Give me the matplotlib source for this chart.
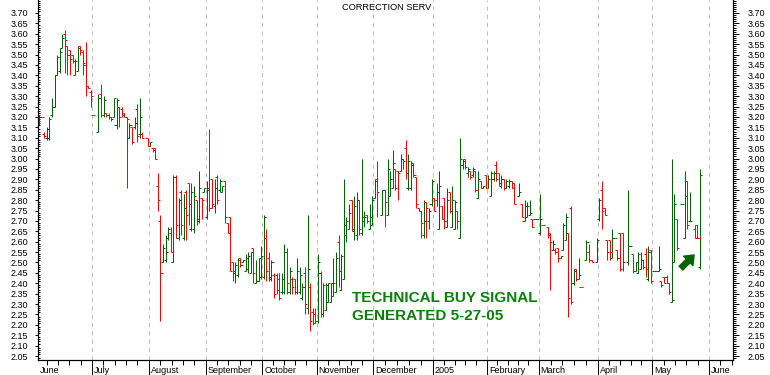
import matplotlib
matplotlib.use("Agg")
import matplotlib.pyplot as plt
import numpy as np
import pandas as pd
from matplotlib import transforms
from matplotlib.ticker import FixedLocator, FormatStrFormatter

plt.rcParams['font.family'] = ['Liberation Sans', 'DejaVu Sans']

N = None
# daily bars, one entry per weekday 2004-06-01 .. 2005-05-27 (None = no trade)
opens = [
    N, 3.20, 3.20, 3.12, 3.10, 3.10, 3.21, 3.25, 3.40, 3.42, 3.53, 3.60, 3.54, 3.52, 3.50, 3.40, 3.42, 3.54, 3.51, 3.45, 3.35, 3.32,  # jun
    3.21, N, 3.13, 3.31, 3.21, 3.22, 3.21, 3.20, 3.20, 3.16, 3.25, 3.24, 3.22, 3.20, 3.10, 3.15, 3.15, 3.24, 3.12, 3.12, N, 3.10,  # jul
    3.06, 3.05, 3.05, 2.87, 2.70, 2.50, 2.51, 2.62, 2.64, 2.50, 2.91, 2.62, 2.84, 2.62, 2.84, 2.88, 2.66, 2.66, 2.80, 2.70, 2.81, 2.84,  # aug
    2.72, 2.86, 2.90, 2.77, 2.91, 2.85, 2.84, 2.89, 2.69, 2.72, 2.50, 2.45, 2.44, 2.52, 2.50, 2.46, 2.47, 2.45, 2.57, 2.40, 2.41, 2.43,  # sep
    2.43, 2.62, 2.52, 2.43, 2.44, 2.44, 2.42, 2.36, 2.36, 2.55, 2.36, 2.42, 2.42, 2.36, 2.36, 2.33, 2.45, 2.28, 2.38, 2.26, 2.25,  # oct
    2.22, 2.45, 2.25, 2.27, 2.31, 2.31, 2.34, 2.36, 2.60, 2.37, 2.42, 2.63, 2.66, 2.80, 2.65, 2.63, 2.80, 2.64, 2.70, 2.73, 2.66, 2.68,  # nov
    2.81, 2.90, N, 2.73, 2.85, 2.73, 2.82, 2.86, 2.95, 2.94, 2.94, 3.00, 3.05, 2.86, 2.86, 2.98, 2.91, 2.76, 2.75, 2.63, 2.79, 2.70, 2.78,  # dec
    2.81, 2.80, 2.66, 2.77, 2.81, 2.67, 2.84, 2.67, 2.66, 2.75, 2.62, 2.97, 3.00, 2.93, 2.94, 2.92, 2.94, 2.81, 2.89, 2.86, 2.92,  # jan
    2.86, 2.82, 2.90, 2.97, 2.93, 2.87, 2.90, 2.86, 2.87, 2.89, 2.88, N, 2.82, 2.78, 2.70, 2.72, 2.73, 2.71, 2.71, 2.71,  # feb
    2.64, 2.68, N, 2.67, 2.63, 2.56, 2.56, 2.57, 2.52, 2.56, 2.61, 2.64, 2.76, 2.40, 2.47, 2.42, 2.38, N, 2.51, 2.55, 2.51, N, 2.50,  # mar
    2.71, 2.85, 2.76, 2.61, 2.61, 2.52, 2.62, 2.56, 2.64, 2.64, N, 2.50, 2.58, 2.54, 2.46, 2.45, 2.47, 2.51, 2.54, 2.42, 2.56,  # apr
    2.46, 2.46, 2.46, 2.41, 2.43, 2.43, 2.40, 2.31, 2.50, 2.71, N, 2.78, 2.62, 2.89, 2.70, N, 2.66, 2.68, 2.48, N,  # may
]
highs = [
    N, 3.21, 3.20, 3.13, 3.15, 3.20, 3.29, 3.40, 3.50, 3.53, 3.60, 3.62, 3.54, 3.52, 3.50, 3.48, 3.54, 3.54, 3.52, 3.56, 3.35, 3.33,
    3.21, N, 3.31, 3.36, 3.30, 3.22, 3.22, 3.20, 3.29, 3.29, 3.25, 3.25, 3.22, 3.20, 3.17, 3.15, 3.20, 3.26, 3.29, 3.13, N, 3.10,
    3.08, 3.05, 3.05, 2.93, 2.73, 2.59, 2.63, 2.67, 2.67, 2.92, 2.92, 2.81, 2.85, 2.83, 2.85, 2.88, 2.88, 2.87, 2.80, 2.94, 2.81, 2.86,
    2.89, 3.14, 2.90, 2.90, 2.92, 2.90, 2.87, 2.89, 2.69, 2.72, 2.50, 2.50, 2.52, 2.52, 2.51, 2.54, 2.55, 2.55, 2.57, 2.51, 2.52, 2.58,
    2.73, 2.66, 2.55, 2.51, 2.45, 2.45, 2.45, 2.45, 2.59, 2.57, 2.48, 2.43, 2.42, 2.52, 2.48, 2.40, 2.48, 2.73, 2.40, 2.28, 2.28,
    2.54, 2.46, 2.40, 2.40, 2.40, 2.40, 2.52, 2.55, 2.63, 2.54, 2.90, 2.72, 2.78, 2.80, 2.82, 2.84, 2.80, 3.00, 2.75, 2.73, 2.78, 2.82,
    2.90, 2.99, N, 2.85, 2.85, 3.00, 2.94, 3.04, 2.95, 2.94, 3.02, 3.00, 3.09, 3.02, 2.99, 2.98, 2.91, 2.76, 2.75, 2.80, 2.79, 2.76, 2.90,
    2.81, 2.88, 2.94, 2.77, 2.81, 2.86, 2.84, 2.87, 2.80, 2.75, 3.10, 3.00, 3.00, 2.96, 2.94, 2.96, 2.94, 2.94, 2.89, 2.87, 2.92,
    2.92, 2.94, 2.94, 2.99, 2.93, 2.92, 2.90, 2.90, 2.90, 2.89, 2.88, N, 2.88, 2.78, 2.80, 2.79, 2.80, 2.71, 2.71, 2.71,
    2.83, 2.68, N, 2.67, 2.64, 2.61, 2.57, 2.57, 2.53, 2.69, 2.74, 2.64, 2.77, 2.47, 2.47, 2.52, 2.38, N, 2.61, 2.59, 2.51, N, 2.62,
    2.81, 2.89, 2.76, 2.61, 2.61, 2.66, 2.62, 2.56, 2.64, 2.64, N, 2.85, 2.58, 2.54, 2.50, 2.55, 2.55, 2.51, 2.57, 2.58, 2.56,
    2.46, 2.46, 2.58, 2.41, 2.43, 2.44, 2.40, 3.00, 2.83, 2.71, N, 2.78, 2.94, 2.89, 2.84, N, 2.68, 2.68, 2.95, N,
]
lows = [
    N, 3.16, 3.20, 3.10, 3.09, 3.09, 3.20, 3.25, 3.40, 3.41, 3.53, 3.41, 3.40, 3.40, 3.46, 3.40, 3.42, 3.50, 3.40, 3.30, 3.34, 3.25,
    3.21, N, 3.13, 3.20, 3.20, 3.20, 3.19, 3.18, 3.20, 3.14, 3.15, 3.20, 3.20, 2.86, 3.10, 3.07, 3.14, 3.08, 3.10, 3.10, N, 3.06,
    3.06, 3.03, 3.00, 2.75, 2.22, 2.50, 2.50, 2.61, 2.55, 2.50, 2.62, 2.61, 2.63, 2.61, 2.61, 2.68, 2.65, 2.64, 2.68, 2.69, 2.71, 2.84,
    2.71, 2.75, 2.76, 2.74, 2.78, 2.84, 2.84, 2.69, 2.64, 2.46, 2.41, 2.40, 2.43, 2.48, 2.50, 2.46, 2.45, 2.45, 2.40, 2.40, 2.41, 2.42,
    2.42, 2.41, 2.41, 2.41, 2.33, 2.35, 2.32, 2.35, 2.35, 2.35, 2.35, 2.35, 2.35, 2.35, 2.35, 2.32, 2.25, 2.25, 2.17, 2.20, 2.21,
    2.21, 2.24, 2.24, 2.27, 2.31, 2.31, 2.34, 2.36, 2.38, 2.37, 2.42, 2.60, 2.66, 2.65, 2.61, 2.61, 2.63, 2.63, 2.67, 2.69, 2.66, 2.68,
    2.81, 2.72, N, 2.73, 2.67, 2.73, 2.82, 2.86, 2.85, 2.80, 2.94, 2.95, 2.90, 2.85, 2.85, 2.91, 2.76, 2.75, 2.62, 2.62, 2.62, 2.66, 2.77,
    2.75, 2.77, 2.66, 2.71, 2.66, 2.67, 2.74, 2.67, 2.66, 2.66, 2.62, 2.95, 2.95, 2.91, 2.90, 2.91, 2.84, 2.81, 2.86, 2.86, 2.86,
    2.86, 2.82, 2.89, 2.89, 2.87, 2.86, 2.85, 2.86, 2.86, 2.86, 2.78, N, 2.82, 2.72, 2.70, 2.72, 2.73, 2.67, 2.71, 2.71,
    2.63, 2.68, N, 2.62, 2.37, 2.56, 2.54, 2.50, 2.52, 2.56, 2.61, 2.24, 2.30, 2.39, 2.41, 2.42, 2.38, N, 2.51, 2.50, 2.50, N, 2.50,
    2.70, 2.66, 2.73, 2.51, 2.51, 2.52, 2.62, 2.51, 2.46, 2.46, N, 2.49, 2.58, 2.45, 2.46, 2.45, 2.47, 2.47, 2.43, 2.41, 2.40,
    2.46, 2.46, 2.46, 2.38, 2.40, 2.40, 2.35, 2.31, 2.50, 2.56, N, 2.78, 2.62, 2.66, 2.70, N, 2.62, 2.62, 2.47, N,
]
closes = [
    N, 3.20, 3.20, 3.11, 3.14, 3.19, 3.25, 3.40, 3.49, 3.51, 3.58, 3.57, 3.50, 3.48, 3.47, 3.47, 3.53, 3.52, 3.46, 3.35, 3.34, 3.30,
    3.21, N, 3.29, 3.21, 3.28, 3.21, 3.20, 3.19, 3.29, 3.28, 3.20, 3.21, 3.20, 3.19, 3.16, 3.08, 3.17, 3.11, 3.20, 3.10, N, 3.06,
    3.08, 3.04, 3.00, 2.80, 2.45, 2.57, 2.55, 2.66, 2.55, 2.91, 2.68, 2.80, 2.68, 2.76, 2.73, 2.78, 2.84, 2.82, 2.71, 2.86, 2.80, 2.86,
    2.85, 2.76, 2.78, 2.86, 2.80, 2.89, 2.87, 2.72, 2.64, 2.46, 2.46, 2.49, 2.51, 2.49, 2.51, 2.52, 2.53, 2.55, 2.45, 2.41, 2.52, 2.53,
    2.72, 2.46, 2.42, 2.50, 2.35, 2.37, 2.33, 2.42, 2.55, 2.40, 2.46, 2.38, 2.36, 2.46, 2.44, 2.38, 2.30, 2.47, 2.22, 2.21, 2.22,
    2.50, 2.25, 2.39, 2.39, 2.40, 2.40, 2.40, 2.52, 2.46, 2.53, 2.68, 2.70, 2.74, 2.66, 2.77, 2.80, 2.66, 2.72, 2.72, 2.70, 2.72, 2.80,
    2.89, 2.84, N, 2.85, 2.79, 2.95, 2.90, 2.98, 2.86, 2.93, 3.00, 2.99, 2.93, 2.99, 2.97, 2.92, 2.78, 2.75, 2.69, 2.70, 2.76, 2.75, 2.89,
    2.75, 2.84, 2.87, 2.71, 2.70, 2.80, 2.75, 2.80, 2.79, 2.70, 3.00, 2.99, 2.96, 2.95, 2.91, 2.95, 2.85, 2.90, 2.86, 2.87, 2.86,
    2.90, 2.93, 2.93, 2.90, 2.88, 2.90, 2.86, 2.89, 2.89, 2.86, 2.78, N, 2.84, 2.72, 2.77, 2.77, 2.74, 2.67, 2.71, 2.71,
    2.71, 2.68, N, 2.64, 2.60, 2.59, 2.55, 2.52, 2.53, 2.68, 2.72, 2.33, 2.31, 2.46, 2.42, 2.44, 2.38, N, 2.60, 2.51, 2.50, N, 2.61,
    2.80, 2.75, 2.73, 2.55, 2.55, 2.62, 2.62, 2.52, 2.47, 2.50, N, 2.58, 2.58, 2.46, 2.50, 2.54, 2.51, 2.48, 2.47, 2.55, 2.41,
    2.46, 2.46, 2.47, 2.39, 2.40, 2.40, 2.36, 2.32, 2.78, 2.57, N, 2.78, 2.82, 2.68, 2.70, N, 2.62, 2.62, 2.92, N,
]

month_names = ['June', 'July', 'August', 'September', 'October', 'November', 'December',
               '2005', 'February', 'March', 'April', 'May', 'June']
title = 'CORRECTION SERV'
signal_text = ['TECHNICAL BUY SIGNAL', 'GENERATED 5-27-05']

GREEN = '#006400'
RED = '#ff0000'

days = pd.bdate_range('2004-06-01', '2005-05-27')
o = np.array(opens, dtype=float)
h = np.array(highs, dtype=float)
l = np.array(lows, dtype=float)
c = np.array(closes, dtype=float)
assert len(days) == len(o) == len(h) == len(l) == len(c)

# up/down colour: close vs open, flat bars against previous close
cols = []
prev = np.nan
for oo, cc in zip(o, c):
    if np.isnan(cc):
        cols.append('none')
        continue
    if cc > oo:
        up = True
    elif cc < oo:
        up = False
    else:
        up = np.isnan(prev) or cc >= prev
    cols.append(GREEN if up else RED)
    prev = cc
cols = np.array(cols)

x = np.arange(len(days)) + 0.5
m = ~np.isnan(c)

fig = plt.figure(figsize=(7.7, 3.75), dpi=100)
ax = fig.add_axes([38 / 770, 15 / 375, 695 / 770, 360 / 375])

xl, xr = 1.08, 270.25
yl, yr = 2.031, 3.7625

# month boundaries from the calendar
cal = pd.bdate_range('2004-06-01', '2005-07-29')
starts = [i for i in range(len(cal)) if i == 0 or cal[i].month != cal[i - 1].month]
for s in starts[1:]:
    if s < xr:
        ax.axvline(s, color='#c0c0c0', lw=0.75, ls=(0, (4, 4)), zorder=0)

tk = 0.8
bar_lw = 0.72
for lc in (ax.vlines(x[m], l[m], h[m], colors=cols[m], lw=bar_lw),
           ax.hlines(o[m], x[m] - tk, x[m], colors=cols[m], lw=bar_lw),
           ax.hlines(c[m], x[m], x[m] + tk, colors=cols[m], lw=bar_lw)):
    lc.set_snap(True)

ax.set_xlim(xl, xr)
ax.set_ylim(yl, yr)

# x ticks: long at month starts, four short ones inside each month
major = [s for s in starts[1:] if s < xr]
minor = []
for a, b in zip(starts[:-1], starts[1:]):
    for k in range(1, 5):
        p = a + (b - a) * k / 5
        if xl < p < xr:
            minor.append(p)
ax.xaxis.set_major_locator(FixedLocator(major))
ax.xaxis.set_minor_locator(FixedLocator(minor))
ax.tick_params(axis='x', which='major', direction='out', length=10.8, width=0.7, labelbottom=False)
ax.tick_params(axis='x', which='minor', direction='out', length=3.6, width=0.7)

lab_tr = transforms.offset_copy(ax.get_xaxis_transform(), fig=fig, x=2, y=-10.5, units='dots')
for s, name in zip(starts, month_names):
    ax.text(max(s, xl), 0, name, transform=lab_tr, ha='left', va='center', fontsize=6.5)

yt = np.round(np.arange(2.05, 3.7001, 0.05), 2)
ym = np.round(np.arange(2.04, 3.7601, 0.01), 2)

ax2 = ax.twinx()
ax2.set_ylim(yl, yr)
for a in (ax, ax2):
    a.yaxis.set_major_locator(FixedLocator(yt))
    a.yaxis.set_minor_locator(FixedLocator(ym))
    a.yaxis.set_major_formatter(FormatStrFormatter('%.2f'))
    for sp in a.spines.values():
        sp.set_linewidth(0.8)
    a.spines['top'].set_visible(False)

ax.tick_params(axis='y', which='major', direction='out', length=2.5, width=0.7, labelsize=6.5, pad=4.5)
ax.tick_params(axis='y', which='minor', direction='in', length=1.5, width=0.7)
ax2.tick_params(axis='y', which='major', direction='out', length=4.3, width=0.7, labelsize=6.5, pad=6)
ax2.tick_params(axis='y', which='minor', direction='out', length=2.2, width=0.7)

fig.text(386.7 / 770, 1 - 7.3 / 375, title, ha='center', va='center', fontsize=6.7)

fig.text(351.5 / 770, 1 - 298 / 375, signal_text[0], ha='left', va='center',
         fontsize=11, fontweight='bold', color='#0a800a')
fig.text(351.5 / 770, 1 - 316.5 / 375, signal_text[1], ha='left', va='center',
         fontsize=11, fontweight='bold', color='#0a800a')

ax.annotate('', xy=(255.2, 2.536), xytext=(250.1, 2.473),
            arrowprops=dict(arrowstyle='simple,head_length=0.6,head_width=0.95,tail_width=0.38',
                            color=GREEN, shrinkA=0, shrinkB=0, mutation_scale=10))

fig.savefig('out.png', dpi=100)
